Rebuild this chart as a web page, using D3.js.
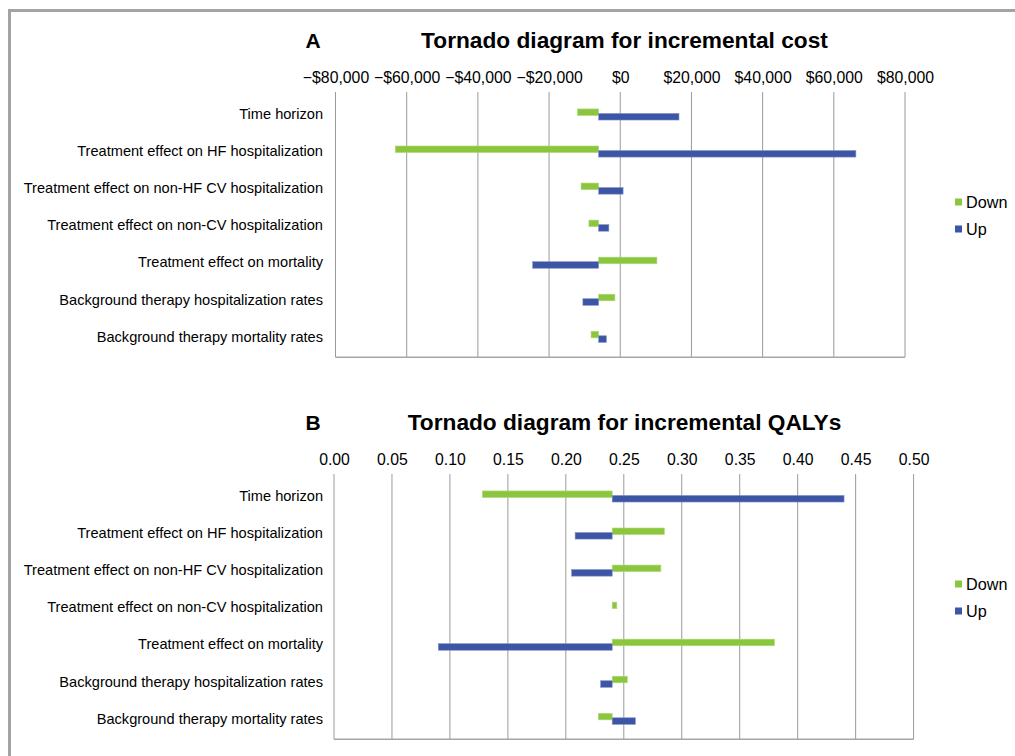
<!DOCTYPE html>
<html><head><meta charset="utf-8">
<script src="https://cdn.jsdelivr.net/npm/d3@7/dist/d3.min.js"></script>
<style>
html,body{margin:0;padding:0;background:#fff;}
text{font-family:"Liberation Sans",Arial,sans-serif;fill:#000;}
</style></head>
<body>
<svg id="chart" width="1015" height="756"></svg>
<script>
// ---- data ----
const categories = [
  "Time horizon",
  "Treatment effect on HF hospitalization",
  "Treatment effect on non-HF CV hospitalization",
  "Treatment effect on non-CV hospitalization",
  "Treatment effect on mortality",
  "Background therapy hospitalization rates",
  "Background therapy mortality rates"
];
const seriesNames = ["Down", "Up"];
const costBase = -6070;
const costDown = [-12000, -63200, -11000, -8800, 10300, -1500, -8200];
const costUp   = [16500, 66200, 800, -3200, -24600, -10500, -3900];
const costTicks = [-80000, -60000, -40000, -20000, 0, 20000, 40000, 60000, 80000];
const qalyBase = 0.240;
const qalyDown = [0.128, 0.285, 0.282, 0.244, 0.380, 0.253, 0.228];
const qalyUp   = [0.440, 0.208, 0.205, 0.240, 0.090, 0.230, 0.260];
const qalyTicks = [0, 0.05, 0.10, 0.15, 0.20, 0.25, 0.30, 0.35, 0.40, 0.45, 0.50];

const colors = {Down: "#8cc63f", Up: "#3d55a5"};
const strokes = {Down: "#b2da7e", Up: "#8393c9"};
const FONT = '"Liberation Sans",Arial,sans-serif';

const svg = d3.select("#chart");

// outer frame
svg.append("path")
  .attr("d", "M9.5,760 L9.5,10.5 L1020,10.5")
  .attr("fill", "none").attr("stroke", "#a3a3a3").attr("stroke-width", 3);

function panel(opt) {
  const g = svg.append("g").attr("transform", `translate(0,${opt.dy})`);
  const x = d3.scaleLinear().domain(opt.domain).range(opt.xr);
  const y = d3.scaleBand().domain(categories).range([96, 355.4]);
  const top = 92, bottom = 357.3;

  // titles
  g.append("text").attr("x", 313).attr("y", 48).attr("text-anchor", "middle")
    .style("font-weight", "bold").style("font-size", "21px").text(opt.letter);
  g.append("text").attr("x", 624.5).attr("y", 48).attr("text-anchor", "middle")
    .style("font-weight", "bold").style("font-size", "22.7px").text(opt.title);

  // gridlines
  g.append("g").selectAll("line").data(opt.ticks).join("line")
    .attr("x1", d => x(d)).attr("x2", d => x(d))
    .attr("y1", top).attr("y2", bottom)
    .attr("stroke", "#9a9a9a").attr("stroke-width", 1);
  // axis lines
  g.append("line").attr("x1", x(opt.domain[0])).attr("x2", x(opt.domain[1]))
    .attr("y1", bottom).attr("y2", bottom).attr("stroke", "#a6a6a6").attr("stroke-width", 1.5);

  // top axis
  const axis = d3.axisTop(x).tickValues(opt.ticks).tickFormat(opt.fmt).tickSize(0).tickPadding(0);
  const ax = g.append("g").attr("transform", `translate(0,82.5)`).call(axis);
  ax.select(".domain").remove();
  ax.selectAll("text").style("font-size", "15.8px").style("font-family", FONT).attr("fill", "#000");

  // category labels
  const yAxis = d3.axisLeft(y).tickSize(0).tickPadding(0);
  const ay = g.append("g").attr("transform", `translate(323,0)`).call(yAxis);
  ay.select(".domain").remove();
  ay.selectAll("text").style("font-size", "14.6px").style("font-family", FONT).attr("fill", "#000");

  // bars
  const h = 6.6;
  const rows = categories.map((c, i) => ({c, Down: opt.down[i], Up: opt.up[i]}));
  seriesNames.forEach((s, si) => {
    g.append("g").selectAll("rect").data(rows).join("rect")
      .attr("x", d => x(Math.min(opt.base, d[s])))
      .attr("width", d => Math.abs(x(d[s]) - x(opt.base)))
      .attr("y", d => y(d.c) + y.bandwidth() / 2 + (si === 0 ? -5.6 : -1.1))
      .attr("height", h)
      .attr("fill", colors[s])
      .attr("stroke", strokes[s]).attr("stroke-width", 0.6);
  });

  // legend
  const lg = g.append("g");
  seriesNames.forEach((s, i) => {
    lg.append("rect").attr("x", 955).attr("y", 198.5 + i * 27).attr("width", 7).attr("height", 7).attr("fill", colors[s]);
    lg.append("text").attr("x", 966).attr("y", 208 + i * 27).style("font-size", "16.2px").text(s);
  });
}

panel({dy: 0, letter: "A", title: "Tornado diagram for incremental cost",
  domain: [-80000, 80000], xr: [335.5, 905], ticks: costTicks, fmt: d3.format("$,"),
  base: costBase, down: costDown, up: costUp});
panel({dy: 382, letter: "B", title: "Tornado diagram for incremental QALYs",
  domain: [0, 0.5], xr: [334, 913.6], ticks: qalyTicks, fmt: d3.format(".2f"),
  base: qalyBase, down: qalyDown, up: qalyUp});
</script>
</body></html>
